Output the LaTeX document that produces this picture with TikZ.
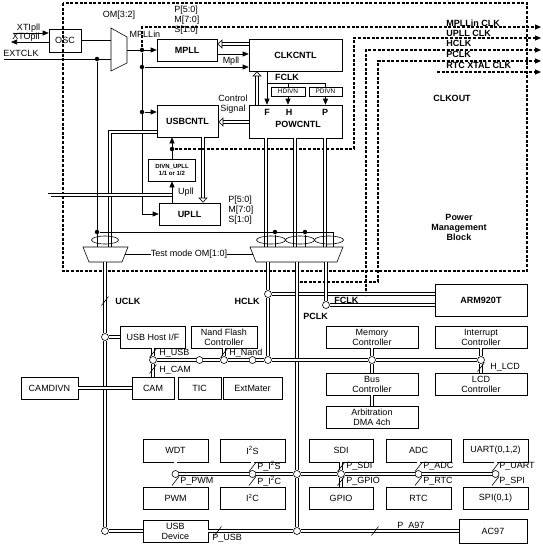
\documentclass[tikz,border=0pt]{standalone}
\usepackage{fontspec}
\setmainfont{Liberation Sans}
\usetikzlibrary{arrows.meta,positioning}

\newcommand\busmark[1]{\draw (#1) ++(-3.5,4.5) -- ++(7,-9);}

\tikzset{
  box/.style={draw, inner sep=1pt, align=center, font=\fontsize{9}{10}\selectfont},
  bbox/.style={box, font=\fontsize{9}{10}\selectfont\bfseries},
  sz/.style 2 args={minimum width=#1pt, minimum height=#2pt},
  lbl/.style={inner sep=0pt, align=center, font=\fontsize{9}{10}\selectfont},
  blbl/.style={inner sep=0pt, align=center, font=\fontsize{9}{10}\selectfont\bfseries},
  bus/.style={double, double distance=2.4pt},
  tap/.style={circle, draw, fill=white, inner sep=0pt, minimum size=7pt},
  dot/.style={circle, fill, inner sep=0pt, minimum size=4.5pt},
  arr/.style={-{Triangle[width=5pt,length=6pt]}},
  hollow/.style={bus, -{Triangle[open,width=9pt,length=5pt]}},
  clk/.style={line width=1.1pt, dash pattern=on 3pt off 1.6pt},
}

\begin{document}
\begin{tikzpicture}[x=1pt, y=-1pt, line width=0.6pt]
\useasboundingbox (0,0) rectangle (543,550);

% power management block
\draw[clk] (63,3) rectangle (527,271);
\node[blbl] (pmb) at (459,227) {Power\\Management\\Block};
\node[blbl] (clkout) at (452,98) {CLKOUT};

% clock sources
\node[box, sz={32}{23}] (osc) at (65,40.5) {OSC};
\node[lbl] (lxti) at (28.5,28) {XTIpll};
\node[lbl] (lxto) at (26,37.5) {XTOpll};
\node[lbl] (lext) at (21,53) {EXTCLK};
\coordinate (xti) at (14,33);
\coordinate (xto) at (11,42);
\coordinate (ext) at (4,59);
\draw[arr] (xti) -- (xti -| osc.west);
\draw[arr] (xto -| osc.west) -- (xto);

% OM[3:2] selector
\draw (111,28) -- (127,37) -- (127,63) -- (111,71) -- cycle;
\node[lbl] (lom) at (119,15) {OM[3:2]};
\coordinate (omA) at (111,40.5);
\coordinate (omB) at (111,59);
\coordinate (omY) at (127,50);
\draw (osc.east) -- (omA);

\node[dot] (d1) at (97,59) {};
\node[dot] (d2) at (142,50) {};
\node[dot] (d3) at (142,67) {};
\node[dot] (d4) at (142,112) {};
\node[dot] (d5) at (172,149) {};
\node[dot] (d6) at (97,232) {};
\node[dot] (d7) at (275,232) {};
\node[dot] (d8) at (305,232) {};
\node[dot] (dp) at (297,282) {};
\node[dot] (dh) at (366,294) {};
\draw (ext) -- (omB);

% PLLs and control
\node[bbox, sz={60}{22}] (mpll) at (187,50) {MPLL};
\node[bbox, sz={93}{32}] (clkcntl) at (295.5,55) {CLKCNTL};
\node[bbox, sz={61}{32}] (usbcntl) at (187.5,121) {USBCNTL};
\node[draw, sz={93}{33}] (powcntl) at (295.5,121.5) {};
\node[blbl] (lpow) at (298,124) {POWCNTL};
\node[blbl] (lf) at (267,112) {F};
\node[blbl] (lh) at (289,112) {H};
\node[blbl] (lp) at (325,112) {P};
\node[box, sz={34}{9}, inner sep=0pt, font=\fontsize{6.5}{7}\selectfont] (hdivn) at (288,91.5) {HDIVN};
\node[box, sz={33}{9}, inner sep=0pt, font=\fontsize{6.5}{7}\selectfont] (pdivn) at (325.5,91.5) {PDIVN};
\node[bbox, sz={47}{22}, font=\fontsize{6}{7}\selectfont\bfseries] (divn) at (172,170) {DIVN\_UPLL\\1/1 or 1/2};
\node[bbox, sz={61}{22}] (upll) at (189.5,214) {UPLL};

\node[lbl, anchor=north west, align=left] (pms1) at (174,6) {P[5:0]\\M[7:0]\\S[1:0]};
\node[lbl, anchor=north west, align=left] (pms2) at (228,196) {P[5:0]\\M[7:0]\\S[1:0]};
\node[lbl] (lmin) at (145,34) {MPLLin};
\node[lbl] (lmpll) at (231,61) {Mpll};
\node[lbl] (lctl) at (233,104) {Control\\Signal};
\node[blbl] (lfclk) at (287,77) {FCLK};
\node[lbl] (lupll) at (186,192) {Upll};

\draw[arr] (omY) -- (mpll);
\draw[arr] (d2) |- (upll);
\draw[arr] (d3) -- (d3 -| clkcntl.west);
\draw[arr] (d4) -- (d4 -| usbcntl.west);
\draw[arr] (mpll.east |- 0,54) -- (clkcntl.west |- 0,54);
\draw[hollow] (clkcntl.west |- 0,44) -- (mpll.east |- 0,44);
\draw[hollow] (powcntl.west |- 0,122) -- (usbcntl.east |- 0,122);
\draw[hollow] (257,0 |- powcntl.north) -- (257,0 |- clkcntl.south);
\draw[hollow] (203,0 |- usbcntl.south) -- (203,0 |- upll.north);

\draw[arr] (267,0 |- clkcntl.south) -- (267,0 |- powcntl.north);
\coordinate (fb) at (267,83);
\draw (fb) -| (pdivn.north);
\draw (hdivn.north |- fb) -- (hdivn.north);
\draw[arr] (hdivn.south) -- (hdivn.south |- powcntl.north);
\draw[arr] (pdivn.south) -- (pdivn.south |- powcntl.north);

\draw[arr] (divn.north) -- (divn.north |- usbcntl.south);
\draw[arr] (upll.north -| divn) -- (divn.south);

% clock outputs
\coordinate (out1) at (541,27);
\coordinate (out2) at (541,38);
\coordinate (out3) at (541,50);
\coordinate (out4) at (541,61);
\coordinate (out5) at (541,72);
\coordinate (rtc) at (437,72);
\draw[clk, arr] (d2) -- (142,27) -- (out1);
\draw[clk, arr] (d5) -| (354,38) -- (out2);
\draw[clk, arr] (dh) -- (366,50) -- (out3);
\draw[clk, arr] (dp) -| (378,61) -- (out4);
\draw[clk, arr] (rtc) -- (out5);
\node[blbl, anchor=west] (lo1) at (446,23) {MPLLin CLK};
\node[blbl, anchor=west] (lo2) at (446,33) {UPLL CLK};
\node[blbl, anchor=west] (lo3) at (446,43.5) {HCLK};
\node[blbl, anchor=west] (lo4) at (446,54) {PCLK};
\node[blbl, anchor=west] (lo5) at (446,65.5) {RTC XTAL CLK};

% test mode selectors
\node[box, sz={57}{22}] (camdivn) at (49.5,388) {CAMDIVN};
\draw[bus] (usbcntl.west |- 0,132) -| (110,247);
\draw[bus] (172,195) -| (camdivn);
\foreach \x in {266,295,325}
  \draw[bus] (\x,0 |- powcntl.south) -- (\x,247);
\draw (d1) -- (97,247);
\draw (d6) -| (333,247);
\draw (d7) -- (275,247);
\draw (d8) -- (305,247);
\draw (83,247) -- (128,247) -- (122,262) -- (89,262) -- cycle;
\draw (250,247) -- (343,247) -- (337,262) -- (256,262) -- cycle;
\draw (105,240) ellipse [x radius=13.5pt, y radius=4pt];
\foreach \x in {271,300,329}
  \draw (\x,240) ellipse [x radius=14.5pt, y radius=4pt];
\node[lbl] (tm) at (189,254) {Test mode OM[1:0]};
\draw (tm.west) -- (125,254);
\draw (tm.east) -- (253,254);
\coordinate (uclk) at (105,262);
\coordinate (hclk) at (268,262);
\coordinate (pclk) at (297,262);
\coordinate (fclk) at (326,262);

% AHB side
\node[tap] (t1) at (105,337) {};
\node[tap] (t2) at (105,531) {};
\node[tap] (th1) at (268,294) {};
\node[tap] (th2) at (268,360) {};
\node[tap] (tf) at (326,305) {};
\node[tap] (tp1) at (297,474) {};
\node[tap] (tp2) at (297,531) {};
\node[tap] (ta1) at (153,360) {};
\node[tap] (ta2) at (199.5,360) {};
\node[tap] (ta3) at (224,360) {};
\node[tap] (ta4) at (252.5,360) {};
\node[tap] (ta5) at (372,360) {};
\node[tap] (ta6) at (481,360) {};

\node[bbox, sz={92}{32}] (arm) at (481,300) {ARM920T};
\node[box, sz={65}{22}] (hostif) at (153,337) {USB Host I/F};
\node[box, sz={66}{22}] (nand) at (224,337) {Nand Flash\\Controller};
\node[box, sz={42}{22}] (cam) at (153,388) {CAM};
\node[box, sz={43}{22}] (tic) at (199.5,388) {TIC};
\node[box, sz={59}{22}] (extm) at (252.5,388) {ExtMater};
\node[box, sz={92}{22}] (mem) at (372,337) {Memory\\Controller};
\node[box, sz={92}{22}] (intc) at (481,337) {Interrupt\\Controller};
\node[box, sz={92}{22}] (busc) at (372,384) {Bus\\Controller};
\node[box, sz={92}{22}] (lcd) at (481,384) {LCD\\Controller};
\node[box, sz={92}{22}] (dma) at (372,417) {Arbitration\\DMA 4ch};

\draw[bus] (uclk) -- (t1) -- (t2);
\draw[bus] (t1) -- (hostif);
\draw[bus] (hclk) -- (th1) -- (th2);
\draw[bus] (th1) -- (th1 -| arm.west);
\draw[bus] (fclk) -- (tf);
\draw[bus] (tf) -- (tf -| arm.west);
\draw[bus] (pclk) -- (tp1) -- (tp2);
\draw[bus] (ta1) -- (ta2) -- (ta3) -- (ta4) -- (th2) -- (ta5) -- (ta6);
\draw[bus] (hostif) -- (ta1) -- (cam);
\draw[bus] (ta2) -- (tic);
\draw[bus] (nand) -- (ta3);
\draw[bus] (ta4) -- (extm);
\draw[bus] (mem) -- (ta5) -- (busc) -- (dma);
\draw[bus] (intc) -- (ta6) -- (lcd);
\draw[bus] (camdivn) -- (cam);

\node[blbl, anchor=west] (luclk) at (115,301) {UCLK};
\node[blbl, anchor=east] (lhclk) at (260,301) {HCLK};
\node[blbl, anchor=west] (lpclk) at (303,316) {PCLK};
\node[blbl, anchor=west] (lfclk2) at (334,300) {FCLK};
\node[lbl, anchor=west] (lhusb) at (159,353) {H\_USB};
\node[lbl, anchor=west] (lhcam) at (159,370) {H\_CAM};
\node[lbl, anchor=west] (lhnand) at (229,353) {H\_Nand};
\node[lbl, anchor=west] (lhlcd) at (490,367) {H\_LCD};
\busmark{105,301}
\busmark{153,353}
\busmark{153,369}
\busmark{224,353}
\busmark{481,367}

% APB side
\node[tap] (tb1) at (175.5,474) {};
\node[tap] (tb2) at (252.5,474) {};
\node[tap] (tb3) at (341,474) {};
\node[tap] (tb4) at (418.5,474) {};
\node[tap] (tb5) at (495.5,474) {};

\node[box, sz={65}{23}] (wdt) at (175.5,450.5) {WDT};
\node[box, sz={65}{23}] (iis) at (252.5,450.5) {I\textsuperscript{2}S};
\node[box, sz={64}{23}] (sdi) at (341,450.5) {SDI};
\node[box, sz={65}{23}] (adc) at (418.5,450.5) {ADC};
\node[box, sz={65}{23}] (uart) at (495.5,450.5) {UART(0,1,2)};
\node[box, sz={65}{22}] (pwm) at (175.5,498) {PWM};
\node[box, sz={65}{22}] (iic) at (252.5,498) {I\textsuperscript{2}C};
\node[box, sz={64}{22}] (gpio) at (341,498) {GPIO};
\node[box, sz={65}{22}] (rtcb) at (418.5,498) {RTC};
\node[box, sz={65}{22}] (spi) at (495.5,498) {SPI(0,1)};
\node[box, sz={65}{22}] (usbdev) at (175.5,531) {USB\\Device};
\node[box, sz={68}{24}] (ac97) at (493,531) {AC97};

\draw[bus] (wdt) -- (tb1) -- (pwm);
\draw[bus] (iis) -- (tb2) -- (iic);
\draw[bus] (sdi) -- (tb3) -- (gpio);
\draw[bus] (adc) -- (tb4) -- (rtcb);
\draw[bus] (uart) -- (tb5) -- (spi);
\draw[bus] (tb1) -- (tb2) -- (tp1) -- (tb3) -- (tb4) -- (tb5);
\draw[bus] (t2) -- (usbdev);
\draw[bus] (usbdev) -- (tp2) -- (ac97);

\node[lbl, anchor=west] (lppwm) at (180,481) {P\_PWM};
\node[lbl, anchor=west] (lpiis) at (257,466) {P\_I\textsuperscript{2}S};
\node[lbl, anchor=west] (lpiic) at (257,481) {P\_I\textsuperscript{2}C};
\node[lbl, anchor=west] (lpsdi) at (346,466) {P\_SDI};
\node[lbl, anchor=west] (lpgpio) at (346,481) {P\_GPIO};
\node[lbl, anchor=west] (lpadc) at (423,466) {P\_ADC};
\node[lbl, anchor=west] (lprtc) at (423,481) {P\_RTC};
\node[lbl, anchor=west] (lpuart) at (499,466) {P\_UART};
\node[lbl, anchor=west] (lpspi) at (499,481) {P\_SPI};
\node[lbl, anchor=west] (lpusb) at (212,538) {P\_USB};
\node[lbl, anchor=west] (lpa97) at (397,526) {P\_A97};
\busmark{175.5,481}
\foreach \x in {252.5,341,418.5,495.5} {
  \busmark{\x,467}
  \busmark{\x,481}
}
\busmark{218,531}
\busmark{375,531}
\end{tikzpicture}
\end{document}
